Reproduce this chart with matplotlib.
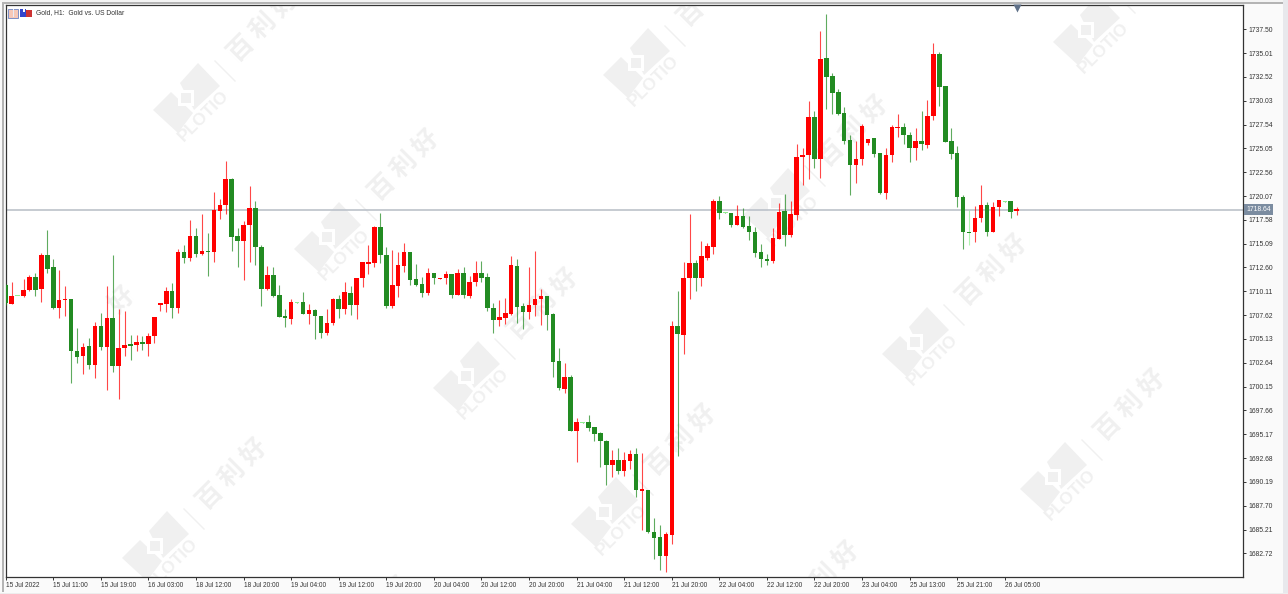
import matplotlib
matplotlib.use("Agg")
import matplotlib.pyplot as plt
from matplotlib.patches import Polygon, Rectangle
from matplotlib.transforms import blended_transform_factory
import numpy as np

open_ = [1710.76,1708.81,1709.65,1709.60,1710.24,1711.60,1710.31,1713.89,1712.61,1708.36,
1709.23,1709.30,1703.87,1703.31,1704.36,1702.37,1706.52,1704.32,1707.32,1702.30,
1704.15,1704.50,1704.46,1704.81,1704.63,1705.44,1708.71,1708.81,1710.10,1708.36,
1714.21,1713.55,1715.84,1714.00,1714.31,1714.24,1718.52,1719.12,1721.90,1715.84,
1715.32,1716.99,1718.87,1714.77,1710.31,1711.81,1709.72,1707.53,1707.21,1708.99,
1708.95,1707.77,1708.15,1707.56,1705.75,1706.79,1709.34,1708.26,1709.93,1708.64,
1711.46,1712.99,1713.10,1716.79,1713.90,1708.60,1710.66,1712.75,1714.24,1711.36,
1710.83,1709.96,1711.98,1711.43,1711.46,1711.91,1709.75,1711.98,1709.65,1711.08,
1711.98,1711.56,1708.39,1707.11,1707.35,1707.77,1712.74,1708.57,1707.94,1708.64,
1709.26,1709.58,1707.73,1702.79,1699.93,1701.15,1695.55,1696.42,1696.42,1695.90,
1695.30,1694.50,1691.96,1692.49,1691.34,1692.42,1693.11,1689.28,1689.39,1685.00,
1684.41,1682.46,1684.65,1706.51,1705.57,1711.46,1713.07,1711.50,1713.62,1714.77,
1719.50,1718.36,1718.25,1717.03,1717.97,1716.93,1716.30,1714.21,1713.45,1713.27,
1715.61,1718.50,1715.95,1718.08,1724.13,1724.34,1728.38,1723.89,1734.47,1732.66,
1730.92,1728.73,1725.91,1723.33,1723.89,1725.63,1726.12,1724.55,1720.41,1724.34,
1727.16,1727.27,1726.50,1725.11,1725.80,1725.42,1728.42,1734.89,1731.55,1725.80,
1724.55,1719.96,1716.30,1716.27,1717.80,1719.12,1716.34,1718.88,1719.50,1719.50,
1718.46]
high = [1710.90,1711.11,1709.67,1711.35,1711.81,1711.98,1714.07,1716.51,1713.44,1712.29,
1710.66,1709.30,1706.24,1704.74,1705.23,1706.90,1707.80,1710.66,1713.89,1708.26,
1708.08,1705.51,1705.54,1705.44,1705.71,1707.46,1708.88,1710.52,1710.94,1714.52,
1714.94,1717.58,1716.68,1718.18,1716.23,1720.54,1719.74,1723.71,1722.00,1716.78,
1717.45,1721.10,1719.54,1714.94,1712.75,1712.61,1710.76,1708.26,1709.27,1708.99,
1710.03,1708.78,1708.22,1707.56,1708.26,1709.44,1709.68,1711.04,1710.66,1711.50,
1713.13,1714.94,1716.93,1718.25,1714.70,1714.42,1714.21,1715.12,1714.24,1712.92,
1711.64,1712.50,1711.98,1711.50,1712.23,1711.91,1712.43,1712.61,1711.74,1713.27,
1713.27,1711.98,1708.85,1709.19,1709.40,1713.79,1713.44,1708.85,1712.67,1714.31,
1710.31,1709.65,1707.87,1704.15,1702.65,1701.36,1696.84,1696.42,1697.18,1695.97,
1695.37,1694.57,1693.53,1693.70,1693.32,1693.50,1693.70,1693.18,1689.39,1686.39,
1685.70,1684.93,1707.00,1710.13,1713.20,1718.18,1713.38,1715.33,1715.15,1719.71,
1720.06,1718.36,1718.25,1719.12,1718.77,1717.97,1716.79,1715.01,1714.00,1716.68,
1719.30,1720.27,1719.57,1725.56,1725.04,1729.98,1728.97,1737.29,1739.07,1732.98,
1731.24,1729.36,1726.43,1725.80,1727.58,1726.08,1726.12,1724.55,1725.07,1727.48,
1728.69,1727.75,1726.75,1727.13,1729.00,1730.16,1736.07,1735.13,1731.55,1727.20,
1725.28,1720.20,1718.60,1719.02,1721.21,1719.40,1719.40,1719.64,1719.50,1719.50,
1718.88]
low = [1708.70,1708.74,1709.58,1709.54,1710.17,1709.65,1709.00,1712.05,1708.29,1707.35,
1707.56,1700.49,1702.65,1701.50,1701.99,1701.05,1703.97,1699.80,1701.64,1698.86,
1703.38,1702.96,1703.83,1703.97,1703.38,1704.70,1708.08,1707.94,1707.35,1707.87,
1713.02,1713.30,1713.72,1713.86,1711.74,1713.13,1717.62,1718.18,1714.31,1712.68,
1711.28,1713.13,1712.85,1708.60,1710.24,1709.48,1707.39,1706.41,1706.69,1708.92,
1707.70,1706.69,1705.12,1705.19,1705.54,1706.59,1707.35,1707.70,1707.63,1707.18,
1710.55,1711.91,1712.64,1713.10,1708.33,1708.33,1709.48,1712.12,1710.80,1710.66,
1709.55,1709.69,1710.87,1711.43,1710.87,1709.37,1709.69,1709.37,1709.37,1710.66,
1711.04,1708.08,1705.78,1706.48,1706.65,1707.66,1706.83,1706.20,1707.17,1707.56,
1706.62,1706.06,1701.12,1699.80,1699.52,1695.48,1692.31,1696.35,1695.55,1694.50,
1691.79,1689.84,1690.71,1691.02,1690.78,1691.58,1688.62,1685.18,1684.83,1682.08,
1681.00,1680.72,1683.71,1692.94,1703.59,1709.27,1710.18,1710.66,1713.38,1714.00,
1717.66,1718.29,1716.86,1717.00,1716.75,1715.50,1713.73,1712.68,1712.86,1713.03,
1715.54,1714.84,1715.81,1717.55,1721.21,1721.84,1722.99,1721.91,1729.22,1728.62,
1728.52,1725.56,1720.17,1721.45,1723.30,1725.39,1724.10,1720.30,1719.75,1723.65,
1726.26,1725.56,1723.65,1723.79,1724.87,1725.11,1728.07,1729.49,1725.70,1723.96,
1718.95,1714.56,1714.94,1715.26,1717.35,1715.92,1716.27,1717.97,1719.43,1717.77,
1718.11]
close = [1708.92,1709.65,1709.60,1710.24,1711.60,1710.27,1713.89,1712.47,1708.36,1709.16,
1709.30,1703.87,1703.28,1704.32,1702.37,1706.52,1704.32,1707.32,1702.30,1704.18,
1704.50,1704.43,1704.81,1704.63,1705.44,1707.39,1708.88,1710.10,1708.36,1714.21,
1713.55,1715.84,1714.00,1714.28,1714.24,1718.59,1719.12,1721.90,1715.81,1715.32,
1716.99,1718.77,1714.70,1710.31,1711.81,1709.62,1707.46,1707.35,1709.02,1708.92,
1707.77,1708.15,1707.56,1705.75,1706.83,1709.34,1708.26,1710.03,1708.64,1711.50,
1713.13,1713.13,1716.82,1713.86,1708.60,1710.73,1712.85,1714.21,1711.29,1710.73,
1709.96,1711.98,1711.46,1711.50,1711.88,1709.75,1711.98,1709.75,1711.11,1711.98,
1711.53,1708.32,1707.11,1707.38,1707.84,1712.81,1708.50,1707.94,1708.71,1709.30,
1709.58,1707.66,1702.75,1699.97,1701.15,1695.55,1696.42,1696.35,1695.86,1695.24,
1694.50,1691.96,1692.49,1691.34,1692.49,1693.11,1689.32,1689.35,1684.90,1684.37,
1682.46,1684.76,1706.51,1705.61,1711.49,1713.07,1711.50,1713.76,1714.84,1719.54,
1718.25,1718.29,1717.03,1717.97,1716.82,1716.27,1714.14,1713.48,1713.24,1715.71,
1718.39,1715.99,1718.18,1724.10,1724.41,1728.38,1723.89,1734.40,1732.52,1730.85,
1728.66,1725.80,1723.30,1723.92,1727.37,1726.08,1724.48,1720.37,1724.41,1727.27,
1727.23,1726.47,1725.11,1725.80,1725.46,1728.42,1734.89,1731.48,1725.74,1724.48,
1719.92,1716.27,1716.23,1717.80,1719.12,1716.34,1718.88,1719.61,1719.43,1718.42,
1718.67]

price_ticks = [1737.50,1735.01,1732.52,1730.03,1727.54,1725.05,1722.56,1720.07,1717.58,1715.09,
1712.60,1710.11,1707.62,1705.13,1702.64,1700.15,1697.66,1695.17,1692.68,1690.19,1687.70,1685.21,1682.72]
date_labels = ["15 Jul 2022","15 Jul 11:00","15 Jul 19:00","16 Jul 03:00","18 Jul 12:00","18 Jul 20:00",
"19 Jul 04:00","19 Jul 12:00","19 Jul 20:00","20 Jul 04:00","20 Jul 12:00","20 Jul 20:00","21 Jul 04:00",
"21 Jul 12:00","21 Jul 20:00","22 Jul 04:00","22 Jul 12:00","22 Jul 20:00","23 Jul 04:00","25 Jul 13:00",
"25 Jul 21:00","26 Jul 05:00"]
date_positions = list(range(0, 176, 8))
last_price = 1718.64
title = "Gold, H1:  Gold vs. US Dollar"
pale_bars = [2, 49, 97, 121, 168]

W, H = 1288, 594
plt.rcParams['font.family'] = ['Liberation Sans', 'DejaVu Sans']
fig = plt.figure(figsize=(W/100, H/100), dpi=100, facecolor='#FAFAFA')

bg = fig.add_axes([0, 0, 1, 1], zorder=0)
bg.set_xlim(0, W); bg.set_ylim(H, 0); bg.axis('off')
L, R, T, B = 5.5, 1243.3, 5.0, 577.3
bg.add_patch(Rectangle((0, 0), W, 2, fc='#F4F4F4', ec='none'))
bg.add_patch(Rectangle((2, 2), 2.5, H-4, fc='#B4B4B4', ec='none'))
bg.add_patch(Rectangle((2, 2), W-6, 1.5, fc='#B4B4B4', ec='none'))
bg.add_patch(Rectangle((1283, 0), 5, H, fc='#E8E8EC', ec='none'))
bg.add_patch(Rectangle((0, 592.5), W, 2, fc='#EDEDED', ec='none'))
frame = Rectangle((L, T), R-L, B-T, fc='white', ec='none')
bg.add_patch(frame)

WM = '#F0F0F0'
def watermark(cx, cy, logo=True):
    if logo:
        up = [(12,-35),(34,-12),(8,12),(-6,-15)]
        lo = [(-33,12),(-15,-6),(7,15),(-8,35)]
        for poly in (up, lo):
            p = Polygon([(cx+a, cy+b) for a, b in poly], fc=WM, ec='none')
            bg.add_patch(p); p.set_clip_path(frame)
        for half, col in ((8, 'white'), (5, WM)):
            p = Rectangle((cx-half, cy-half), 2*half, 2*half, fc=col, ec='none')
            bg.add_patch(p); p.set_clip_path(frame)
        t = bg.text(cx+18, cy+18, 'PLOTIO', rotation=45, rotation_mode='anchor', ha='center', va='center',
                    fontsize=12.5, fontweight='bold', color=WM, clip_on=True)
        t.set_clip_path(frame)
        ln, = bg.plot([cx+29, cx+49], [cy-37, cy-17], color=WM, lw=1.0)
        ln.set_clip_path(frame)
    for k, ch in zip((-31, 0, 31), '百利好'):
        t = bg.text(cx+77+k*0.707, cy-72-k*0.707, ch, rotation=45, rotation_mode='anchor', ha='center', va='center',
                    fontsize=18.5, fontweight='bold', color=WM, family=['Noto Sans CJK SC', 'DejaVu Sans'], clip_on=True)
        t.set_clip_path(frame)

for c in [(186,98),(636,63),(1086,30),(327,237),(776,203),(466,376),(915,342),(155,546),(604,512),(1053,477),
          (298,684),(747,649)]:
    watermark(*c)
bg.text(122, 300, '好', rotation=45, ha='center', va='center', fontsize=18.5, fontweight='bold',
        color=WM, family=['Noto Sans CJK SC', 'DejaVu Sans'])

ax = fig.add_axes([L/W, (H-B)/H, (R-L)/W, (B-T)/H], zorder=1)
ax.patch.set_alpha(0)
px_per_bar = 5.947
x0 = 5.7
ax.set_xlim((L-x0)/px_per_bar, (R-x0)/px_per_bar)
ymax = 1737.5 + (29.3-T)/9.566
ymin = 1737.5 - (B-29.3)/9.566
ax.set_ylim(ymin, ymax)

o, h, l, c = map(np.array, (open_, high, low, close))
n = len(o)
idx = np.arange(n)
up = c >= o
RED, GREEN = '#FF0000', '#228B22'
colors = np.where(up, RED, GREEN)
wick_colors = [('#90EE90' if i == 162 else ('#FF0000' if up[i] else '#228B22')) for i in idx]
ax.vlines(idx, l, h, colors=wick_colors, lw=0.8, alpha=0.72, zorder=3)
top, bot = np.maximum(o, c), np.minimum(o, c)
heights = np.maximum(top-bot, 0.12)
body_colors = [('#90EE90' if i in pale_bars else colors[i]) for i in idx]
ax.bar(idx, heights, bottom=bot, width=0.76, color=body_colors, linewidth=0, zorder=4)

ax.axhline(last_price, color='#BCC2CA', lw=1.2, zorder=2)

for s in ax.spines.values():
    s.set_color('#333333'); s.set_linewidth(0.9)
ax.yaxis.tick_right()
ax.set_yticks(price_ticks)
ax.set_yticklabels([f'{p:.2f}' for p in price_ticks])
ax.set_xticks(date_positions)
ax.set_xticklabels(date_labels, ha='left')
ax.tick_params(axis='y', direction='out', length=2.2, width=0.7, pad=1.2, labelsize=4.9, labelcolor='#333333', color='#333333')
ax.tick_params(axis='x', direction='out', length=1.8, width=0.7, pad=1.6, labelsize=4.7, labelcolor='#333333', color='#333333')

tr = blended_transform_factory(ax.transAxes, ax.transData)
ax.text(1.0022, last_price, f'{last_price:.2f}', transform=tr, fontsize=4.9, color='white', ha='left', va='center',
        clip_on=False, zorder=6, bbox=dict(boxstyle='square,pad=0.3', fc='#7B8CA0', ec='none'))

tr2 = blended_transform_factory(ax.transData, ax.transAxes)
ax.plot([n-1], [0.9955], marker='v', ms=6, color='#5F7088', mec='none', transform=tr2, clip_on=False, zorder=6)

bg2 = fig.add_axes([0, 0, 1, 1], zorder=2)
bg2.set_xlim(0, W); bg2.set_ylim(H, 0); bg2.axis('off')
bg2.patch.set_alpha(0)
bg2.add_patch(Rectangle((8.5, 8.5), 10, 9, fc='#F6C8B8', ec='#7C8FC8', lw=0.7))
bg2.add_patch(Rectangle((12.8, 9), 1.2, 8, fc='#E8ECF8', ec='none'))
bg2.add_patch(Rectangle((20.5, 9), 6, 8, fc='#3344CC', ec='none'))
bg2.add_patch(Rectangle((26.5, 10), 5.5, 7, fc='#CC3333', ec='none'))
bg2.add_patch(Rectangle((23, 8.5), 2, 3, fc='white', ec='none'))
bg2.text(36, 12.8, title, fontsize=4.9, color='#333333', ha='left', va='center')

fig.savefig('out.png', dpi=100, facecolor=fig.get_facecolor())
